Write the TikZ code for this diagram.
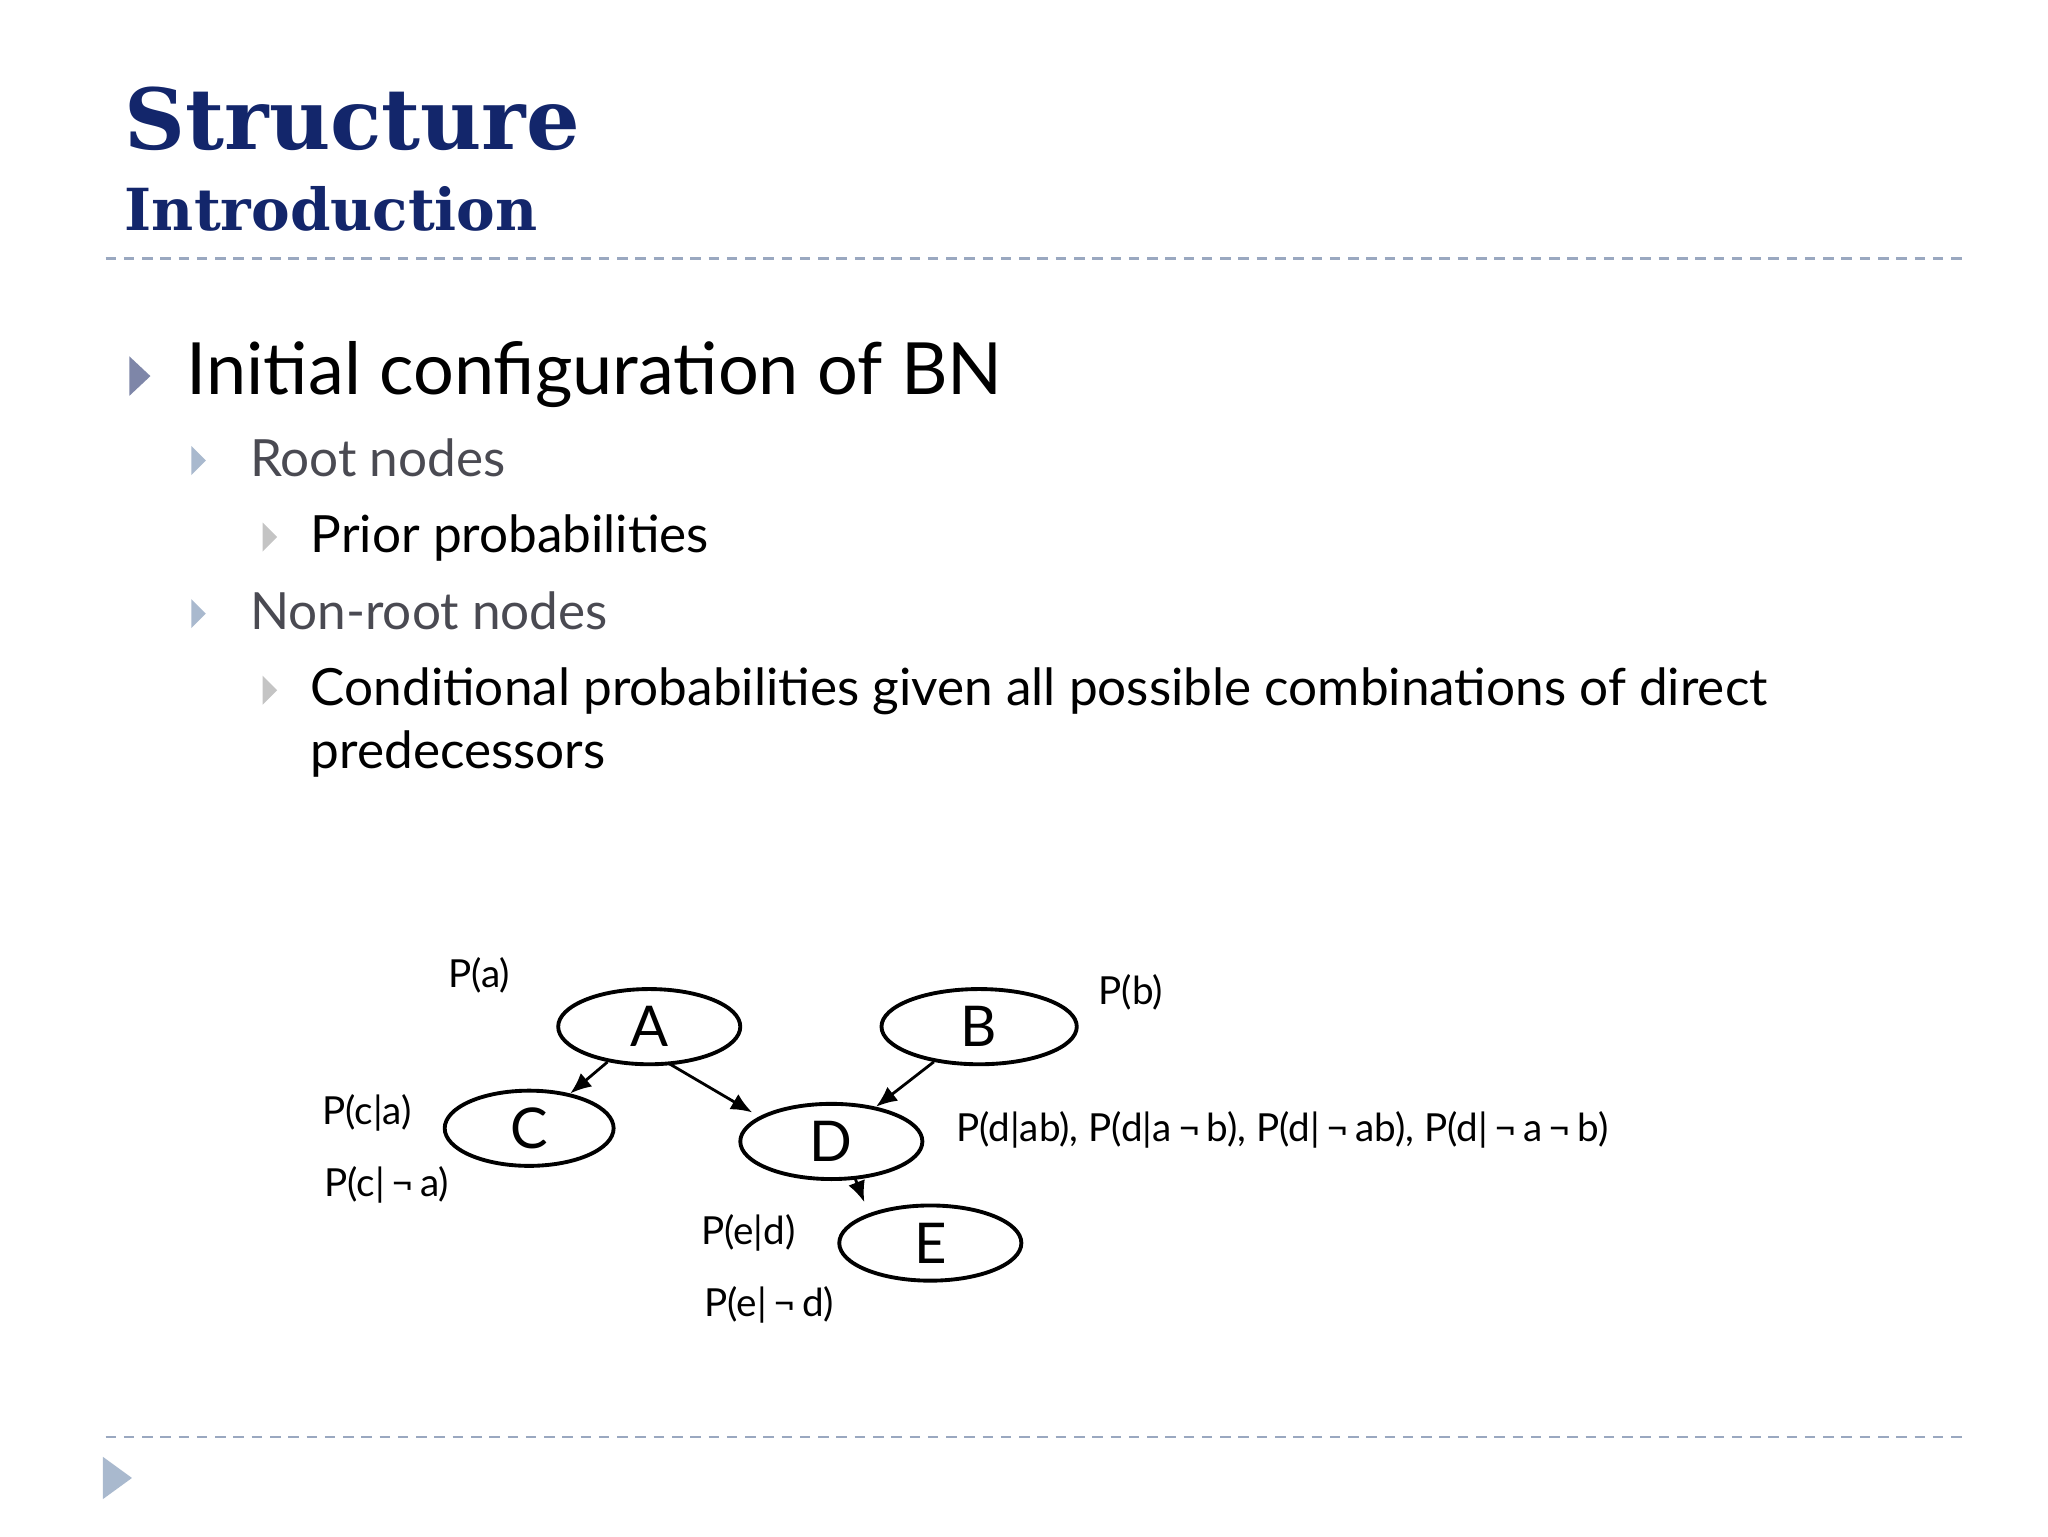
\documentclass[tikz,border=0pt]{standalone}
\usepackage{fontspec}
\setmainfont{Lato}
\newfontfamily\titlefont{DejaVu Serif}
\usetikzlibrary{shapes.geometric,arrows.meta}
\definecolor{navy}{HTML}{13266B}
\definecolor{dashc}{HTML}{9AA8C0}
\definecolor{bulA}{HTML}{7E86A8}
\definecolor{bulB}{HTML}{A9B9CE}
\definecolor{bulC}{HTML}{C4C4C4}
\definecolor{subg}{HTML}{4A4A52}
\newlength{\unitpx}\setlength{\unitpx}{0.0132cm}
\tikzset{
  bn/.style={ellipse,draw,line width=1.1pt,minimum width=138\unitpx,minimum height=57\unitpx,font=\fontsize{16}{16}\selectfont,inner sep=0pt},
  lab/.style={font=\fontsize{11}{11}\selectfont,inner sep=0pt},
  edge/.style={-{Latex[length=6pt,width=5pt]},line width=0.8pt},
  sep/.style={dashc,line width=0.8pt,dash pattern=on 3pt off 2.2pt}
}
\begin{document}
\begin{tikzpicture}[x=0.0132cm,y=-0.0132cm]
\useasboundingbox (0,0) rectangle (1552,1164);
\fill[white] (0,0) rectangle (1552,1164);
\node[anchor=base west,inner sep=0,text=navy,font=\titlefont\bfseries\fontsize{24}{24}\selectfont] (t1) at (94,113) {Structure};
\node[anchor=base west,inner sep=0,text=navy,font=\titlefont\bfseries\fontsize{16.5}{16.5}\selectfont] (t2) at (94,175) {Introduction};
\draw[sep] (80,196) -- (1490,196);
\draw[sep] (80,1089) -- (1490,1089);
\fill[bulB] (78,1104) -- (100,1120) -- (78,1136) -- cycle;
% bullets
\fill[bulA] (98,270) -- (114,285) -- (98,300) -- cycle;
\node[anchor=base west,inner sep=0,font=\fontsize{20.5}{20.5}\selectfont] (l1) at (141,299) {Initial configuration of BN};
\fill[bulB] (145,338) -- (156,349) -- (145,360) -- cycle;
\node[anchor=base west,inner sep=0,text=subg,font=\fontsize{14.6}{14.6}\selectfont] (l2) at (189,361) {Root nodes};
\fill[bulC] (199,396) -- (210,407) -- (199,418) -- cycle;
\node[anchor=base west,inner sep=0,font=\fontsize{14.6}{14.6}\selectfont] (l3) at (235,419) {Prior probabilities};
\fill[bulB] (145,454) -- (156,465) -- (145,476) -- cycle;
\node[anchor=base west,inner sep=0,text=subg,font=\fontsize{14.6}{14.6}\selectfont] (l4) at (189,477) {Non-root nodes};
\fill[bulC] (199,512) -- (210,523) -- (199,534) -- cycle;
\node[anchor=base west,inner sep=0,font=\fontsize{14.6}{14.6}\selectfont] (l5) at (235,535) {Conditional probabilities given all possible combinations of direct};
\node[anchor=base west,inner sep=0,font=\fontsize{14.6}{14.6}\selectfont] (l6) at (235,582) {predecessors};
% graph
\node[bn] (A) at (492,778) {A};
\node[bn,minimum width=148\unitpx] (B) at (742,778) {B};
\node[bn,minimum width=128\unitpx] (C) at (401,855) {C};
\node[bn] (D) at (630,865) {D};
\node[bn] (E) at (705,942) {E};
\draw[edge] (A) -- (C);
\draw[edge] (507,806) -- (570,843);
\draw[edge] (B) -- (D);
\draw[edge] (648,893) -- (655,911);
\node[lab] (pa) at (363,739) {P(a)};
\node[lab] (pb) at (857,752) {P(b)};
\node[lab] (pca) at (278,843) {P(c|a)};
\node[lab] (pcna) at (293,898) {P(c|\,¬\,a)};
\node[lab,anchor=west] (pd) at (724,856) {P(d|ab), P(d|a\,¬\,b), P(d|\,¬\,ab), P(d|\,¬\,a\,¬\,b)};
\node[lab] (ped) at (567,934) {P(e|d)};
\node[lab] (pend) at (583,989) {P(e|\,¬\,d)};
\end{tikzpicture}
\end{document}
